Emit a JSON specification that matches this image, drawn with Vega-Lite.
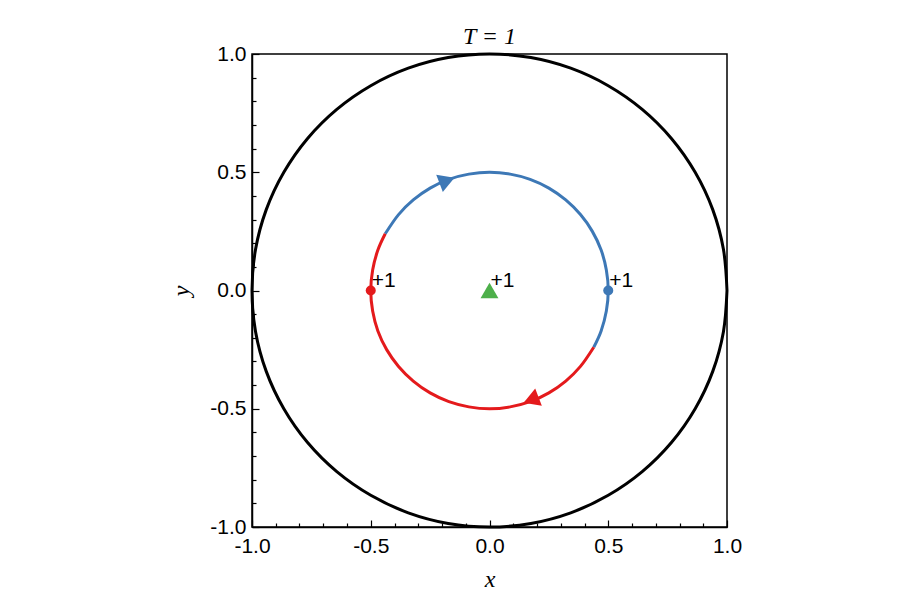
{
  "$schema": "https://vega.github.io/schema/vega-lite/v6.json",
  "autosize": {"type": "none"},
  "padding": {"left": 252, "top": 54, "right": 173, "bottom": 85},
  "width": 475,
  "height": 473,
  "background": "white",
  "view": {"stroke": "black", "strokeWidth": 1.5},
  "title": {"text": "T = 1", "font": "Liberation Serif", "fontStyle": "italic", "fontWeight": "normal", "fontSize": 24, "color": "black", "offset": -6},
  "datasets": {
    "curves": [
      {"series": "outer", "i": 0, "x": 1, "y": 0},
      {"series": "outer", "i": 1, "x": 0.985, "y": 0.174},
      {"series": "outer", "i": 2, "x": 0.94, "y": 0.342},
      {"series": "outer", "i": 3, "x": 0.866, "y": 0.5},
      {"series": "outer", "i": 4, "x": 0.766, "y": 0.643},
      {"series": "outer", "i": 5, "x": 0.643, "y": 0.766},
      {"series": "outer", "i": 6, "x": 0.5, "y": 0.866},
      {"series": "outer", "i": 7, "x": 0.342, "y": 0.94},
      {"series": "outer", "i": 8, "x": 0.174, "y": 0.985},
      {"series": "outer", "i": 9, "x": 0, "y": 1},
      {"series": "outer", "i": 10, "x": -0.174, "y": 0.985},
      {"series": "outer", "i": 11, "x": -0.342, "y": 0.94},
      {"series": "outer", "i": 12, "x": -0.5, "y": 0.866},
      {"series": "outer", "i": 13, "x": -0.643, "y": 0.766},
      {"series": "outer", "i": 14, "x": -0.766, "y": 0.643},
      {"series": "outer", "i": 15, "x": -0.866, "y": 0.5},
      {"series": "outer", "i": 16, "x": -0.94, "y": 0.342},
      {"series": "outer", "i": 17, "x": -0.985, "y": 0.174},
      {"series": "outer", "i": 18, "x": -1, "y": 0},
      {"series": "outer", "i": 19, "x": -0.985, "y": -0.174},
      {"series": "outer", "i": 20, "x": -0.94, "y": -0.342},
      {"series": "outer", "i": 21, "x": -0.866, "y": -0.5},
      {"series": "outer", "i": 22, "x": -0.766, "y": -0.643},
      {"series": "outer", "i": 23, "x": -0.643, "y": -0.766},
      {"series": "outer", "i": 24, "x": -0.5, "y": -0.866},
      {"series": "outer", "i": 25, "x": -0.342, "y": -0.94},
      {"series": "outer", "i": 26, "x": -0.174, "y": -0.985},
      {"series": "outer", "i": 27, "x": 0, "y": -1},
      {"series": "outer", "i": 28, "x": 0.174, "y": -0.985},
      {"series": "outer", "i": 29, "x": 0.342, "y": -0.94},
      {"series": "outer", "i": 30, "x": 0.5, "y": -0.866},
      {"series": "outer", "i": 31, "x": 0.643, "y": -0.766},
      {"series": "outer", "i": 32, "x": 0.766, "y": -0.643},
      {"series": "outer", "i": 33, "x": 0.866, "y": -0.5},
      {"series": "outer", "i": 34, "x": 0.94, "y": -0.342},
      {"series": "outer", "i": 35, "x": 0.985, "y": -0.174},
      {"series": "outer", "i": 36, "x": 1, "y": 0},
      {"series": "blue", "i": 0, "x": 0.439, "y": -0.24},
      {"series": "blue", "i": 1, "x": 0.47, "y": -0.171},
      {"series": "blue", "i": 2, "x": 0.492, "y": -0.087},
      {"series": "blue", "i": 3, "x": 0.5, "y": 0},
      {"series": "blue", "i": 4, "x": 0.492, "y": 0.087},
      {"series": "blue", "i": 5, "x": 0.47, "y": 0.171},
      {"series": "blue", "i": 6, "x": 0.433, "y": 0.25},
      {"series": "blue", "i": 7, "x": 0.383, "y": 0.321},
      {"series": "blue", "i": 8, "x": 0.321, "y": 0.383},
      {"series": "blue", "i": 9, "x": 0.25, "y": 0.433},
      {"series": "blue", "i": 10, "x": 0.171, "y": 0.47},
      {"series": "blue", "i": 11, "x": 0.087, "y": 0.492},
      {"series": "blue", "i": 12, "x": 0, "y": 0.5},
      {"series": "blue", "i": 13, "x": -0.087, "y": 0.492},
      {"series": "blue", "i": 14, "x": -0.171, "y": 0.47},
      {"series": "blue", "i": 15, "x": -0.25, "y": 0.433},
      {"series": "blue", "i": 16, "x": -0.321, "y": 0.383},
      {"series": "blue", "i": 17, "x": -0.383, "y": 0.321},
      {"series": "blue", "i": 18, "x": -0.439, "y": 0.24},
      {"series": "red", "i": 0, "x": -0.439, "y": 0.24},
      {"series": "red", "i": 1, "x": -0.47, "y": 0.171},
      {"series": "red", "i": 2, "x": -0.492, "y": 0.087},
      {"series": "red", "i": 3, "x": -0.5, "y": 0},
      {"series": "red", "i": 4, "x": -0.492, "y": -0.087},
      {"series": "red", "i": 5, "x": -0.47, "y": -0.171},
      {"series": "red", "i": 6, "x": -0.433, "y": -0.25},
      {"series": "red", "i": 7, "x": -0.383, "y": -0.321},
      {"series": "red", "i": 8, "x": -0.321, "y": -0.383},
      {"series": "red", "i": 9, "x": -0.25, "y": -0.433},
      {"series": "red", "i": 10, "x": -0.171, "y": -0.47},
      {"series": "red", "i": 11, "x": -0.087, "y": -0.492},
      {"series": "red", "i": 12, "x": 0, "y": -0.5},
      {"series": "red", "i": 13, "x": 0.087, "y": -0.492},
      {"series": "red", "i": 14, "x": 0.171, "y": -0.47},
      {"series": "red", "i": 15, "x": 0.25, "y": -0.433},
      {"series": "red", "i": 16, "x": 0.321, "y": -0.383},
      {"series": "red", "i": 17, "x": 0.383, "y": -0.321},
      {"series": "red", "i": 18, "x": 0.439, "y": -0.24}
    ],
    "charges": [
      {"series": "red", "x": -0.5, "y": 0, "shape": "circle", "label": "+1"},
      {"series": "blue", "x": 0.5, "y": 0, "shape": "circle", "label": "+1"},
      {"series": "green", "x": 0, "y": 0, "shape": "triangle-up", "label": "+1"}
    ],
    "arrows": [
      {"series": "blue", "x": -0.179, "y": 0.465, "angle": 339},
      {"series": "red", "x": 0.175, "y": -0.463, "angle": 159}
    ]
  },
  "encoding": {
    "x": {
      "field": "x", "type": "quantitative",
      "scale": {"domain": [-1, 1], "nice": false, "zero": false},
      "axis": {
        "title": "x",
        "values": [-1, -0.9, -0.8, -0.7, -0.6, -0.5, -0.4, -0.3, -0.2, -0.1, 0, 0.1, 0.2, 0.3, 0.4, 0.5, 0.6, 0.7, 0.8, 0.9, 1],
        "labelExpr": "abs(datum.value*2 - round(datum.value*2)) < 0.001 ? replace(format(datum.value, '.1f'), '−', '-') : ''",
        "tickSize": {"condition": {"test": "abs(datum.value*2 - round(datum.value*2)) < 0.001", "value": -7}, "value": -4},
        "labelPadding": 15,
        "titlePadding": 8
      }
    },
    "y": {
      "field": "y", "type": "quantitative",
      "scale": {"domain": [-1, 1], "nice": false, "zero": false},
      "axis": {
        "title": "y",
        "values": [-1, -0.9, -0.8, -0.7, -0.6, -0.5, -0.4, -0.3, -0.2, -0.1, 0, 0.1, 0.2, 0.3, 0.4, 0.5, 0.6, 0.7, 0.8, 0.9, 1],
        "labelExpr": "abs(datum.value*2 - round(datum.value*2)) < 0.001 ? replace(format(datum.value, '.1f'), '−', '-') : ''",
        "tickSize": {"condition": {"test": "abs(datum.value*2 - round(datum.value*2)) < 0.001", "value": -7}, "value": -4},
        "labelPadding": 13,
        "titlePadding": 16,
        "titleAngle": -90
      }
    },
    "color": {
      "field": "series", "type": "nominal", "legend": null,
      "scale": {"domain": ["outer", "blue", "red", "green"], "range": ["#000000", "#3d78b6", "#e41a1c", "#4daf4a"]}
    }
  },
  "config": {
    "axis": {
      "grid": false,
      "domainColor": "black",
      "domainWidth": 1.5,
      "tickColor": "black",
      "tickWidth": 1.2,
      "labelFont": "Liberation Sans",
      "labelFontSize": 21,
      "labelColor": "black",
      "labelFlush": false,
      "labelOverlap": false,
      "titleFont": "Liberation Serif",
      "titleFontStyle": "italic",
      "titleFontWeight": "normal",
      "titleFontSize": 24,
      "titleColor": "black"
    }
  },
  "layer": [
    {
      "data": {"name": "curves"},
      "mark": {"type": "line", "interpolate": "cardinal", "strokeWidth": 3},
      "encoding": {
        "detail": {"field": "series"},
        "order": {"field": "i", "type": "quantitative"}
      }
    },
    {
      "data": {"name": "arrows"},
      "mark": {"type": "point", "shape": "triangle-right", "filled": true, "opacity": 1, "size": 340},
      "encoding": {
        "angle": {"field": "angle", "type": "quantitative", "scale": null}
      }
    },
    {
      "data": {"name": "charges"},
      "mark": {"type": "point", "filled": true, "opacity": 1},
      "encoding": {
        "shape": {"field": "shape", "type": "nominal", "scale": null},
        "size": {"condition": {"test": "datum.shape == 'circle'", "value": 100}, "value": 320}
      }
    },
    {
      "data": {"name": "charges"},
      "mark": {"type": "text", "align": "left", "baseline": "alphabetic", "dx": 1, "dy": -4, "font": "Liberation Sans", "fontSize": 21, "color": "black"},
      "encoding": {
        "text": {"field": "label"},
        "color": {"value": "black"}
      }
    }
  ]
}
